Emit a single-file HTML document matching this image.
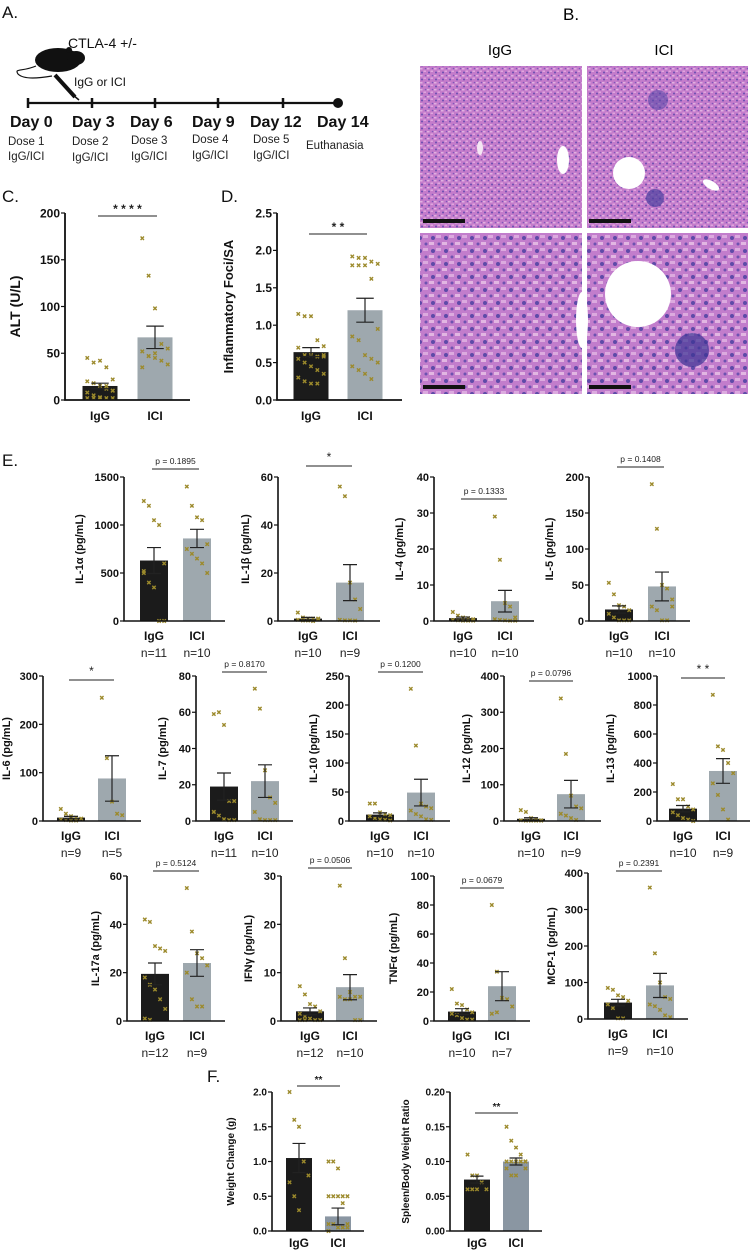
<!DOCTYPE html>
<html><head><meta charset="utf-8">
<style>
html,body{margin:0;padding:0;background:#fff;}
svg{display:block;font-family:"Liberation Sans",sans-serif;}
.nar{font-family:"Liberation Sans Narrow","Liberation Sans",sans-serif;}
</style></head>
<body>
<svg id="fig" width="750" height="1251" viewBox="0 0 750 1251" xmlns="http://www.w3.org/2000/svg">
<defs>
<pattern id="liverA" width="7" height="7" patternUnits="userSpaceOnUse">
<rect width="7" height="7" fill="#c47ccb"/>
<circle cx="2" cy="2.5" r="1" fill="#6a4fb0"/>
<circle cx="5.5" cy="5.5" r="0.8" fill="#7c58b8"/>
<rect x="3.5" y="0.5" width="2.5" height="1.5" fill="#dfa6de"/>
<rect x="0" y="5" width="2.5" height="1.5" fill="#e0b0e0"/>
</pattern>
<pattern id="liverB" width="13" height="13" patternUnits="userSpaceOnUse">
<rect width="13" height="13" fill="#c27dcc"/>
<circle cx="4" cy="4" r="2" fill="#5e4aa8"/>
<circle cx="10" cy="10" r="1.5" fill="#6d52b0"/>
<rect x="7" y="1" width="5" height="3" fill="#dcaadf"/>
<rect x="0" y="8" width="5" height="3" fill="#e2b6e2"/>
</pattern>
</defs>

<g fill="#111">
<text x="2" y="18" font-size="17">A.</text>
<text x="68" y="48" font-size="14">CTLA-4 +/-</text>
<g>
<ellipse cx="58" cy="60" rx="23" ry="12" fill="#111"/>
<ellipse cx="76" cy="58" rx="9" ry="7" fill="#111"/>
<circle cx="69" cy="50" r="3" fill="#111"/>
<path d="M36 66 C22 72 14 68 18 74 C24 80 40 78 52 76" stroke="#111" stroke-width="1.2" fill="none"/>
<path d="M55 75 L75 97" stroke="#111" stroke-width="4"/>
<path d="M73 95 L79 100" stroke="#111" stroke-width="1.5"/>
</g>
<text x="74" y="86" font-size="12">IgG or ICI</text>
<line x1="28" y1="103" x2="338" y2="103" stroke="#111" stroke-width="2.2"/>
<g stroke="#111" stroke-width="2.5">
<line x1="28" y1="98" x2="28" y2="108"/><line x1="92" y1="98" x2="92" y2="108"/><line x1="155" y1="98" x2="155" y2="108"/><line x1="218" y1="98" x2="218" y2="108"/><line x1="283" y1="98" x2="283" y2="108"/>
</g>
<circle cx="338" cy="103" r="5" fill="#111"/>
<g font-size="16" font-weight="bold">
<text x="10" y="127">Day 0</text><text x="72" y="127">Day 3</text><text x="130" y="127">Day 6</text><text x="192" y="127">Day 9</text><text x="250" y="127">Day 12</text><text x="317" y="127">Day 14</text>
</g>
<g font-size="11.5" fill="#222">
<text x="8" y="145">Dose 1</text><text x="8" y="160">IgG/ICI</text>
<text x="72" y="145">Dose 2</text><text x="72" y="161">IgG/ICI</text>
<text x="131" y="144">Dose 3</text><text x="131" y="160">IgG/ICI</text>
<text x="192" y="143">Dose 4</text><text x="192" y="159">IgG/ICI</text>
<text x="253" y="143">Dose 5</text><text x="253" y="159">IgG/ICI</text>
<text x="306" y="149">Euthanasia</text>
</g>
</g>

<g>
<text x="563" y="20" font-size="17">B.</text>
<text x="500" y="55" font-size="15" text-anchor="middle">IgG</text>
<text x="664" y="55" font-size="15" text-anchor="middle">ICI</text>
<rect x="420" y="66" width="162" height="162" fill="url(#liverA)"/>
<rect x="587" y="66" width="161" height="162" fill="url(#liverA)"/>
<rect x="420" y="233" width="162" height="161" fill="url(#liverB)"/>
<rect x="587" y="233" width="161" height="161" fill="url(#liverB)"/>
<ellipse cx="480" cy="148" rx="3" ry="7" fill="#f4e6f4"/>
<ellipse cx="563" cy="160" rx="6" ry="14" fill="#fff"/>
<circle cx="629" cy="173" r="16" fill="#fff"/>
<ellipse cx="711" cy="185" rx="9" ry="4" fill="#fff" transform="rotate(30 711 185)"/>
<circle cx="658" cy="100" r="10" fill="#5a48a8" opacity="0.6"/>
<circle cx="655" cy="198" r="9" fill="#4a3e9e" opacity="0.7"/>
<circle cx="638" cy="294" r="33" fill="#fff"/>
<circle cx="692" cy="350" r="17" fill="#3c3494" opacity="0.7"/>
<ellipse cx="582" cy="320" rx="6" ry="28" fill="#fff"/>
<g fill="#111">
<rect x="423" y="219" width="42" height="4"/><rect x="589" y="219" width="42" height="4"/>
<rect x="423" y="385" width="42" height="4"/><rect x="589" y="385" width="42" height="4"/>
</g>
</g>

<text x="2" y="202" font-size="17" fill="#111">C.</text>
<text x="221" y="202" font-size="17" fill="#111">D.</text>
<text x="2" y="466" font-size="17" fill="#111">E.</text>
<text x="207" y="1082" font-size="17" fill="#111">F.</text>
<g id="charts"></g>
</svg>

<script>
// ---- data (means, SEM, individual points, ticks) ----
const groups = ["IgG","ICI"];
const alt_igg = [45,40,42,35,22,20,18,15,12,10,8,5,3,2,2,2,2,2,15,10];
const alt_ici = [173,133,98,60,55,52,47,45,42,38,35,47,50];
const alt_mean = [15,67]; const alt_sem = [3,12]; const alt_ticks = [0,50,100,150,200];
const foci_igg = [1.15,1.12,1.12,0.8,0.72,0.7,0.6,0.6,0.58,0.58,0.55,0.5,0.45,0.4,0.35,0.3,0.25,0.22,0.22,0.6];
const foci_ici = [1.92,1.9,1.9,1.85,1.82,1.8,1.8,1.8,1.62,0.95,0.85,0.8,0.6,0.55,0.5,0.45,0.4,0.35,0.28];
const foci_mean = [0.64,1.2]; const foci_sem = [0.06,0.16]; const foci_ticks = [0,0.5,1.0,1.5,2.0,2.5];

const il1a_igg=[1250,1200,1050,1000,600,500,400,350,0,0,520]; const il1a_ici=[1400,1200,1080,1050,800,750,700,650,600,500];
const il1a_mean=[630,860]; const il1a_sem=[135,95]; const il1a_ticks=[0,500,1000,1500];
const il1b_igg=[3.5,1.5,1,1,0.8,0.5,0.2,0.2,0,1]; const il1b_ici=[56,52,16,9,5,0.5,0.3,0.3,0.2];
const il1b_mean=[1,16]; const il1b_sem=[0.5,7.5]; const il1b_ticks=[0,20,40,60];
const il4_igg=[2.5,1.5,1,0.8,0.5,0.3,0.2,0.1,0.1,0.1]; const il4_ici=[29,17,5,4,1,0.5,0.3,0.2,0.1,0.1];
const il4_mean=[0.8,5.5]; const il4_sem=[0.3,3]; const il4_ticks=[0,10,20,30,40];
const il5_igg=[53,37,22,20,15,10,5,1,1,1]; const il5_ici=[190,128,50,45,30,20,15,1,1,20];
const il5_mean=[16,48]; const il5_sem=[5,20]; const il5_ticks=[0,50,100,150,200];
const il6_igg=[25,15,10,7,5,3,2,1,1]; const il6_ici=[255,130,40,15,12];
const il6_mean=[7,88]; const il6_sem=[2.5,47]; const il6_ticks=[0,100,200,300];
const il7_igg=[59,60,53,11,11,5,3,1,0.5,0.5,5]; const il7_ici=[73,62,28,13,10,5,1,0.5,0.5,0.5];
const il7_mean=[19,22]; const il7_sem=[7.5,9]; const il7_ticks=[0,20,40,60,80];
const il10_igg=[30,30,15,12,10,8,5,3,2,1]; const il10_ici=[228,130,30,25,22,18,12,8,3,2];
const il10_mean=[11,49]; const il10_sem=[3,23]; const il10_ticks=[0,50,100,150,200,250];
const il12_igg=[30,25,8,5,2,2,1,1,1,1]; const il12_ici=[338,185,70,40,35,20,15,8,3];
const il12_mean=[6,74]; const il12_sem=[3,38]; const il12_ticks=[0,100,200,300,400];
const il13_igg=[255,150,150,100,80,60,40,20,10,0]; const il13_ici=[870,515,490,400,330,260,180,80,10];
const il13_mean=[85,345]; const il13_sem=[22,85]; const il13_ticks=[0,200,400,600,800,1000];
const il17_igg=[42,41,31,30,29,18,15,13,9,5,1,0.5]; const il17_ici=[55,37,28,26,23,20,9,6,6];
const il17_mean=[19.5,24]; const il17_sem=[4.5,5.5]; const il17_ticks=[0,20,40,60];
const ifng_igg=[7.2,5.5,3.5,3,2,1.5,1,0.5,0.2,0.2,0.2,0.2]; const ifng_ici=[28,13,6,5,5,5,4.5,4.5,0.2,0.2];
const ifng_mean=[2,7]; const ifng_sem=[0.7,2.6]; const ifng_ticks=[0,10,20,30];
const tnf_igg=[22,12,11,8,6,5,4,2,1,1]; const tnf_ici=[80,34,16,15,10,5,6];
const tnf_mean=[6.5,24]; const tnf_sem=[2,10]; const tnf_ticks=[0,20,40,60,80,100];
const mcp_igg=[85,80,65,60,50,40,30,2,2]; const mcp_ici=[360,180,100,60,55,40,35,25,10,5];
const mcp_mean=[45,92]; const mcp_sem=[9,33]; const mcp_ticks=[0,100,200,300,400];
const wt_igg=[2.0,1.6,1.5,1.0,0.8,0.7,0.5,0.3]; const wt_ici=[1.0,1.0,0.9,0.5,0.5,0.5,0.5,0.5,0.4,0.1,0.1,0.1,0.05,0.05,0.05,0.0];
const wt_mean=[1.05,0.21]; const wt_sem=[0.21,0.12]; const wt_ticks=[0.0,0.5,1.0,1.5,2.0];
const sp_igg=[0.11,0.08,0.08,0.07,0.06,0.06,0.06,0.06]; const sp_ici=[0.15,0.13,0.12,0.11,0.1,0.1,0.1,0.1,0.1,0.09,0.09,0.08,0.08,0.1,0.1];
const sp_mean=[0.074,0.1]; const sp_sem=[0.005,0.005]; const sp_ticks=[0.00,0.05,0.10,0.15,0.20];

const NS="http://www.w3.org/2000/svg";
const root=document.getElementById('charts');
function mk(tag,attrs,parent){const e=document.createElementNS(NS,tag);for(const k in attrs)e.setAttribute(k,attrs[k]);(parent||root).appendChild(e);return e;}

function chart(c){
  const g=mk('g',{});
  
  
  const max=c.ticks[c.ticks.length-1];
  const y=v=>c.y0-(v/max)*(c.y0-c.yTop);
  const fs=c.fs||11;
  const narrow=c.narrow!==false;
  const pts=[c.igg,c.ici];
  for(let b=0;b<2;b++){
    const cx=c.bx[b];
    const bar=mk('rect',{x:cx-c.bw/2,y:y(c.mean[b]),width:c.bw,height:c.y0-y(c.mean[b]),fill:b==0?'#1b1b1b':(c.iciColor||'#9ea8ae')},g);
    
    
    const vals=pts[b];
    vals.forEach((v,i)=>{
      const k=i%5; const dx=(k-2)*(c.bw/5.5);
      const px=cx+dx, py=y(v), s=1.7;
      const m=mk('path',{d:`M${px-s} ${py-s}L${px+s} ${py+s}M${px+s} ${py-s}L${px-s} ${py+s}`,stroke:'#9c8a2c','stroke-width':1.4},g);
      
      
    });
    const hi=y(c.mean[b]+c.sem[b]), lo=y(Math.max(0,c.mean[b]-c.sem[b]));
    const eb=mk('path',{d:`M${cx} ${hi}L${cx} ${lo}M${cx-c.bw/4} ${hi}L${cx+c.bw/4} ${hi}M${cx-c.bw/4} ${lo}L${cx+c.bw/4} ${lo}`,stroke:'#222','stroke-width':1.2,fill:'none'},g);
    
    
    const lb=mk('text',{x:cx,y:c.y0+(c.labDy||19),'font-size':c.labFs||12,'font-weight':'bold','text-anchor':'middle',fill:'#111'},g);
    if(narrow) lb.setAttribute('class','nar');
    lb.textContent=groups[b];
    
    
    if(c.ns){
      const nt=mk('text',{x:cx,y:c.y0+36,'font-size':12,'text-anchor':'middle',fill:'#222',class:'nar'},g);
      nt.textContent='n='+c.ns[b];
      
      
    }
  }
  const ax=mk('path',{d:`M${c.ax} ${c.yTop}L${c.ax} ${c.y0}L${c.x1} ${c.y0}`,stroke:'#111','stroke-width':c.aw||1.6,fill:'none'},g);
  
  
  c.ticks.forEach(t=>{
    mk('line',{x1:c.ax-4,x2:c.ax,y1:y(t),y2:y(t),stroke:'#111','stroke-width':1.2},g);
    const tt=mk('text',{x:c.ax-5,y:y(t)+fs*0.36,'font-size':fs,'font-weight':'bold','text-anchor':'end',fill:'#111'},g);
    if(narrow) tt.setAttribute('class','nar');
    tt.textContent=c.tickFmt?c.tickFmt(t):t;
    
    
  });
  const ty=(c.yTop+c.y0)/2;
  const tx=c.ax-(c.titleDx||30);
  const tl=mk('text',{x:tx,y:ty,'font-size':c.titleFs||11,'font-weight':'bold','text-anchor':'middle',fill:'#111',transform:`rotate(-90 ${tx} ${ty})`},g);
  tl.textContent=c.title;
  
  
  const sl=mk('line',{x1:c.bx[0]-2,x2:c.bx[1]+2,y1:c.sigY,y2:c.sigY,stroke:'#222','stroke-width':1},g);
  
  
  const st=mk('text',{x:(c.bx[0]+c.bx[1])/2,y:c.sigY-(c.star?3:5),'font-size':c.sigFs||8.5,'text-anchor':'middle',fill:'#222','font-weight':c.star?'bold':'normal'},g);
  if(!c.star) st.setAttribute('class','nar');
  st.textContent=c.sig;
  
  
}

const f1=t=>t.toFixed(1), f2=t=>t.toFixed(2);
chart({name:'alt',igg:alt_igg,ici:alt_ici,mean:alt_mean,sem:alt_sem,ticks:alt_ticks,ax:65,x1:190,yTop:213,y0:400,bx:[100,155],bw:35,title:'ALT (U/L)',titleDx:45,titleFs:14,fs:12,labFs:12,labDy:20,aw:1.8,sigY:216,sig:'* * * *',star:1,sigFs:12,narrow:false});
chart({name:'foci',igg:foci_igg,ici:foci_ici,mean:foci_mean,sem:foci_sem,ticks:foci_ticks,tickFmt:f1,ax:277,x1:402,yTop:213,y0:400,bx:[311,365],bw:35,title:'Inflammatory Foci/SA',titleDx:44,titleFs:13,fs:12,labFs:12,labDy:20,aw:1.8,sigY:234,sig:'* *',star:1,sigFs:12,narrow:false});

const r1={yTop:477,y0:621};
chart({name:'il-1a',igg:il1a_igg,ici:il1a_ici,mean:il1a_mean,sem:il1a_sem,ticks:il1a_ticks,ax:124,x1:225,...r1,bx:[154,197],bw:28,title:'IL-1α (pg/mL)',titleDx:41,ns:[11,10],sigY:469,sig:'p = 0.1895'});
chart({name:'il-1b',igg:il1b_igg,ici:il1b_ici,mean:il1b_mean,sem:il1b_sem,ticks:il1b_ticks,ax:278,x1:380,...r1,bx:[308,350],bw:28,title:'IL-1β (pg/mL)',titleDx:29,ns:[10,9],sigY:466,sig:'*',sigFs:12});
chart({name:'il-4',igg:il4_igg,ici:il4_ici,mean:il4_mean,sem:il4_sem,ticks:il4_ticks,ax:434,x1:534,...r1,bx:[463,505],bw:28,title:'IL-4 (pg/mL)',titleDx:31,ns:[10,10],sigY:499,sig:'p = 0.1333'});
chart({name:'il-5',igg:il5_igg,ici:il5_ici,mean:il5_mean,sem:il5_sem,ticks:il5_ticks,ax:589,x1:690,...r1,bx:[619,662],bw:28,title:'IL-5 (pg/mL)',titleDx:36,ns:[10,10],sigY:467,sig:'p = 0.1408'});

const r2={yTop:676,y0:821};
chart({name:'il-6',igg:il6_igg,ici:il6_ici,mean:il6_mean,sem:il6_sem,ticks:il6_ticks,ax:43,x1:141,...r2,bx:[71,112],bw:28,title:'IL-6 (pg/mL)',titleDx:33,ns:[9,5],sigY:680,sig:'*',sigFs:12});
chart({name:'il-7',igg:il7_igg,ici:il7_ici,mean:il7_mean,sem:il7_sem,ticks:il7_ticks,ax:196,x1:293,...r2,bx:[224,265],bw:28,title:'IL-7 (pg/mL)',titleDx:30,ns:[11,10],sigY:672,sig:'p = 0.8170'});
chart({name:'il-10',igg:il10_igg,ici:il10_ici,mean:il10_mean,sem:il10_sem,ticks:il10_ticks,ax:349,x1:450,...r2,bx:[380,421],bw:28,title:'IL-10 (pg/mL)',titleDx:32,ns:[10,10],sigY:672,sig:'p = 0.1200'});
chart({name:'il-12',igg:il12_igg,ici:il12_ici,mean:il12_mean,sem:il12_sem,ticks:il12_ticks,ax:504,x1:601,...r2,bx:[531,571],bw:28,title:'IL-12 (pg/mL)',titleDx:34,ns:[10,9],sigY:681,sig:'p = 0.0796'});
chart({name:'il-13',igg:il13_igg,ici:il13_ici,mean:il13_mean,sem:il13_sem,ticks:il13_ticks,ax:657,x1:750,...r2,bx:[683,723],bw:28,title:'IL-13 (pg/mL)',titleDx:43,ns:[10,9],sigY:678,sig:'* *',sigFs:12});

const r3={yTop:876,y0:1021};
chart({name:'il-17a',igg:il17_igg,ici:il17_ici,mean:il17_mean,sem:il17_sem,ticks:il17_ticks,ax:127,x1:225,...r3,bx:[155,197],bw:28,title:'IL-17a (pg/mL)',titleDx:28,ns:[12,9],sigY:871,sig:'p = 0.5124'});
chart({name:'ifng',igg:ifng_igg,ici:ifng_ici,mean:ifng_mean,sem:ifng_sem,ticks:ifng_ticks,ax:281,x1:377,...r3,bx:[310,350],bw:28,title:'IFNγ (pg/mL)',titleDx:29,ns:[12,10],sigY:868,sig:'p = 0.0506'});
chart({name:'tnfa',igg:tnf_igg,ici:tnf_ici,mean:tnf_mean,sem:tnf_sem,ticks:tnf_ticks,ax:434,x1:530,...r3,bx:[462,502],bw:28,title:'TNFα (pg/mL)',titleDx:37,ns:[10,7],sigY:888,sig:'p = 0.0679'});
chart({name:'mcp-1',igg:mcp_igg,ici:mcp_ici,mean:mcp_mean,sem:mcp_sem,ticks:mcp_ticks,ax:588,x1:688,yTop:873,y0:1019,bx:[618,660],bw:28,title:'MCP-1 (pg/mL)',titleDx:33,ns:[9,10],sigY:871,sig:'p = 0.2391'});

chart({name:'weight-change',igg:wt_igg,ici:wt_ici,mean:wt_mean,sem:wt_sem,ticks:wt_ticks,tickFmt:f1,ax:272,x1:364,yTop:1092,y0:1231,bx:[299,338],bw:26,title:'Weight Change (g)',titleDx:38,titleFs:10,fs:10,labFs:12,labDy:16,iciColor:'#8a96a2',sigY:1086,sig:'**',sigFs:10,star:1});
chart({name:'spleen-ratio',igg:sp_igg,ici:sp_ici,mean:sp_mean,sem:sp_sem,ticks:sp_ticks,tickFmt:f2,ax:450,x1:542,yTop:1092,y0:1231,bx:[477,516],bw:26,title:'Spleen/Body Weight Ratio',titleDx:41,titleFs:10,fs:10,labFs:12,labDy:16,iciColor:'#8a96a2',sigY:1113,sig:'**',sigFs:10,star:1});
</script>
</body></html>
